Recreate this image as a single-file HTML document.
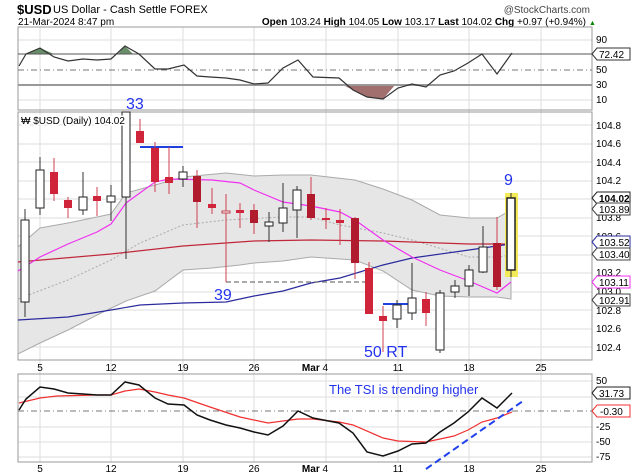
<!DOCTYPE html>
<html><head><meta charset="utf-8"><style>
html,body{margin:0;padding:0;background:#fff;}
svg{display:block;font-family:"Liberation Sans",sans-serif;}
</style></head><body>
<svg width="633" height="476" viewBox="0 0 633 476" xmlns="http://www.w3.org/2000/svg">
<rect width="633" height="476" fill="#fff"/>
<!-- header -->
<text x="17" y="14" font-size="13" font-weight="bold" fill="#000">$USD</text>
<text x="53" y="13" font-size="11" fill="#000">US Dollar - Cash Settle FOREX</text>
<text x="18" y="25" font-size="10" fill="#000">21-Mar-2024 8:47 pm</text>
<text x="590" y="13" font-size="10" fill="#444" text-anchor="end">@StockCharts.com</text>
<text x="586" y="25" font-size="10" fill="#000" text-anchor="end"><tspan font-weight="bold">Open</tspan> 103.24 <tspan font-weight="bold">High</tspan> 104.05 <tspan font-weight="bold">Low</tspan> 103.17 <tspan font-weight="bold">Last</tspan> 104.02 <tspan font-weight="bold">Chg</tspan> +0.97 (+0.94%)</text>
<text x="589" y="25" font-size="7" fill="#080">▲</text>

<!-- grids -->
<g stroke="#ddd" stroke-width="1">
<line x1="40" y1="27" x2="40" y2="462"/><line x1="111" y1="27" x2="111" y2="462"/>
<line x1="183" y1="27" x2="183" y2="462"/><line x1="254" y1="27" x2="254" y2="462"/>
<line x1="326" y1="27" x2="326" y2="462"/><line x1="398" y1="27" x2="398" y2="462"/>
<line x1="469" y1="27" x2="469" y2="462"/><line x1="541" y1="27" x2="541" y2="462"/>
<line x1="18" y1="40" x2="592" y2="40"/><line x1="18" y1="100" x2="592" y2="100"/>
<line x1="18" y1="125" x2="592" y2="125"/><line x1="18" y1="144" x2="592" y2="144"/><line x1="18" y1="162" x2="592" y2="162"/><line x1="18" y1="181" x2="592" y2="181"/><line x1="18" y1="199" x2="592" y2="199"/><line x1="18" y1="218" x2="592" y2="218"/><line x1="18" y1="236" x2="592" y2="236"/><line x1="18" y1="255" x2="592" y2="255"/><line x1="18" y1="273" x2="592" y2="273"/><line x1="18" y1="292" x2="592" y2="292"/><line x1="18" y1="310" x2="592" y2="310"/><line x1="18" y1="329" x2="592" y2="329"/><line x1="18" y1="347" x2="592" y2="347"/>
<line x1="18" y1="381" x2="592" y2="381"/><line x1="18" y1="397" x2="592" y2="397"/><line x1="18" y1="427" x2="592" y2="427"/><line x1="18" y1="442" x2="592" y2="442"/><line x1="18" y1="457" x2="592" y2="457"/>
</g>
<g stroke="#999" fill="none" stroke-width="1">
<rect x="18" y="27" width="574" height="83"/>
<rect x="18" y="112" width="574" height="248"/>
<rect x="18" y="374" width="574" height="88"/>
</g>

<!-- RSI -->
<polygon points="26,54 26,54 40,48 54,54" fill="#4f7a4f" opacity="0.85"/>
<polygon points="118,54 125,46 133,54" fill="#4f7a4f" opacity="0.85"/>
<polygon points="343,85 353,90 367,97 383,99 395,85" fill="#8b4b4b" opacity="0.8"/>
<line x1="18" y1="54" x2="592" y2="54" stroke="#555" stroke-width="1"/>
<line x1="18" y1="70" x2="592" y2="70" stroke="#777" stroke-dasharray="6,3,1,3"/>
<line x1="18" y1="85" x2="592" y2="85" stroke="#999" stroke-width="2"/>
<polyline fill="none" stroke="#333" stroke-width="1.2" points="19,66 26,54 40,48 54,57 68,61 83,59 97,60 111,59 125,46 139,54 155,69 168,69 184,65 197,76 210,77 226,78 240,80 254,84 268,83 283,68 298,60 313,77 339,78 353,90 367,97 383,99 398,88 412,84 426,87 440,75 454,71 468,63 482,54 497,74 512,53"/>
<g font-size="10" fill="#000"><text x="596" y="43">90</text><text x="596" y="73">50</text><text x="596" y="88">30</text><text x="596" y="103">10</text></g>
<polygon points="592,54 597,48 630,48 630,60 597,60" fill="#fff" stroke="#333"/>
<text x="599" y="58" font-size="10">72.42</text>

<!-- Main -->
<polygon fill="#e6e6e6" stroke="#aaa" points="18,247 40,228 68,223 97,217 111,214 126,193 155,185 183,177 226,173 254,176 283,175 311,175 355,180 383,189 412,200 440,215 469,218 497,218 511,210 511,299 497,297 469,297 440,296 412,290 383,271 355,260 340,259 311,257 283,261 254,263 240,265 212,268 183,270 155,291 126,301 97,315 68,330 40,343 18,354"/>
<polyline fill="none" stroke="#aaa" stroke-dasharray="2,2" points="18,299 68,280 111,260 140,243 183,225 226,220 283,217 311,217 340,225 383,233 412,240 469,257 497,257 511,255"/>
<polyline fill="none" stroke="#c0283a" stroke-width="1.2" points="18,262 111,254 183,246 254,241 311,240 383,241 440,243 469,244 511,244"/>
<polyline fill="none" stroke="#2b2b9e" stroke-width="1.2" points="18,320 68,317 111,310 140,305 183,303 226,302 254,296 283,291 311,283 340,278 383,265 412,258 469,250 511,244"/>
<polyline fill="none" stroke="#f030f0" stroke-width="1.2" points="18,271 40,257 68,244 97,232 111,224 126,203 155,182 169,179 212,180 240,183 254,190 283,202 311,206 340,212 355,220 383,240 412,257 440,270 469,281 497,293 511,282"/>
<line x1="226" y1="282" x2="369" y2="282" stroke="#777" stroke-dasharray="5,3" stroke-width="1.2"/>
<line x1="140" y1="147" x2="183" y2="147" stroke="#2040e0" stroke-width="2"/>
<line x1="383" y1="304" x2="411" y2="304" stroke="#2040e0" stroke-width="2"/>
<rect x="505" y="193" width="13" height="84" fill="#f3ea5a"/>
<g stroke-width="1">
<g stroke="#333">
<line x1="25" y1="209" x2="25" y2="317"/><line x1="40" y1="157" x2="40" y2="215"/><line x1="83" y1="172" x2="83" y2="215"/><line x1="111" y1="185" x2="111" y2="221"/><line x1="126" y1="112" x2="126" y2="259"/><line x1="183" y1="166" x2="183" y2="187"/><line x1="269" y1="212" x2="269" y2="242"/><line x1="283" y1="183" x2="283" y2="232"/><line x1="297" y1="186" x2="297" y2="238"/><line x1="397" y1="300" x2="397" y2="328"/><line x1="412" y1="263" x2="412" y2="320"/><line x1="440" y1="290" x2="440" y2="353"/><line x1="455" y1="280" x2="455" y2="298"/><line x1="469" y1="265" x2="469" y2="296"/><line x1="483" y1="226" x2="483" y2="273"/><line x1="511" y1="193" x2="511" y2="277"/>
</g>
<g stroke="#d04050">
<line x1="54" y1="158" x2="54" y2="201"/><line x1="68" y1="197" x2="68" y2="218"/><line x1="97" y1="187" x2="97" y2="216"/><line x1="140" y1="119" x2="140" y2="143"/><line x1="155" y1="142" x2="155" y2="192"/><line x1="169" y1="147" x2="169" y2="194"/><line x1="197" y1="170" x2="197" y2="228"/><line x1="212" y1="188" x2="212" y2="214"/><line x1="226" y1="194" x2="226" y2="282"/><line x1="240" y1="203" x2="240" y2="228"/><line x1="254" y1="204" x2="254" y2="234"/><line x1="311" y1="177" x2="311" y2="220"/><line x1="326" y1="208" x2="326" y2="229"/><line x1="340" y1="209" x2="340" y2="245"/><line x1="355" y1="217" x2="355" y2="279"/><line x1="369" y1="262" x2="369" y2="314"/><line x1="383" y1="306" x2="383" y2="352"/><line x1="426" y1="292" x2="426" y2="326"/><line x1="497" y1="217" x2="497" y2="290"/>
</g>
<g fill="#fff" stroke="#222">
<rect x="21" y="220" width="8" height="82"/><rect x="36" y="170" width="8" height="38"/><rect x="79" y="197" width="8" height="13"/><rect x="107" y="196" width="8" height="6"/><rect x="122" y="112" width="8" height="85"/><rect x="179" y="172" width="8" height="7"/><rect x="265" y="222" width="8" height="4"/><rect x="279" y="208" width="8" height="15"/><rect x="293" y="190" width="8" height="20"/><rect x="393" y="305" width="8" height="14"/><rect x="408" y="298" width="8" height="15"/><rect x="436" y="293" width="8" height="57"/><rect x="451" y="286" width="8" height="6"/><rect x="465" y="270" width="8" height="16"/><rect x="479" y="247" width="8" height="25"/><rect x="507" y="198" width="8" height="72" stroke-width="1.5"/>
<rect x="222" y="211" width="8" height="2" stroke="#c04050"/>
</g>
<g fill="#d0243a">
<rect x="50" y="172" width="8" height="22"/><rect x="64" y="200" width="8" height="8"/><rect x="93" y="196" width="8" height="5"/><rect x="136" y="131" width="8" height="12"/><rect x="151" y="148" width="8" height="34"/><rect x="165" y="177" width="8" height="6"/><rect x="208" y="204" width="8" height="4"/><rect x="236" y="210" width="8" height="3"/><rect x="322" y="218" width="8" height="2"/><rect x="336" y="220" width="8" height="3"/><rect x="365" y="268" width="8" height="46"/><rect x="379" y="316" width="8" height="5"/><rect x="422" y="299" width="8" height="14"/>
</g>
<g fill="#b01c2e">
<rect x="193" y="176" width="8" height="26"/><rect x="250" y="210" width="8" height="13"/><rect x="307" y="194" width="8" height="24"/><rect x="351" y="218" width="8" height="45"/><rect x="493" y="243" width="8" height="44"/>
</g>
</g>
<text x="21" y="124" font-size="10" fill="#000" stroke="#fff" stroke-width="3" paint-order="stroke">₩ $USD (Daily) 104.02</text>
<g fill="#2233ee" font-size="16">
<text x="126" y="109">33</text><text x="214" y="300">39</text><text x="364" y="357">50 RT</text><text x="504" y="185">9</text>
</g>
<g font-size="10" fill="#000">
<text x="596" y="129">104.8</text><text x="596" y="147">104.6</text><text x="596" y="166">104.4</text><text x="596" y="184">104.2</text><text x="596" y="221">103.8</text><text x="596" y="240">103.6</text><text x="596" y="276">103.2</text><text x="596" y="295">103.0</text><text x="596" y="314">102.8</text><text x="596" y="332">102.6</text><text x="596" y="351">102.4</text>
</g>
<g font-size="10">
<polygon points="592,198 597,192 630,192 630,204 597,204" fill="#fff" stroke="#222"/><text x="599" y="202" font-weight="bold">104.02</text>
<polygon points="592,209 597,203 630,203 630,215 597,215" fill="#fff" stroke="#444"/><text x="599" y="213">103.89</text>
<polygon points="592,242 597,236 630,236 630,248 597,248" fill="#fff" stroke="#2b2b9e"/><text x="599" y="246">103.52</text>
<polygon points="592,254 597,248 630,248 630,260 597,260" fill="#fff" stroke="#444"/><text x="599" y="258">103.40</text>
<polygon points="592,282 597,276 630,276 630,288 597,288" fill="#fff" stroke="#f030f0"/><text x="599" y="286">103.11</text>
<polygon points="592,300 597,294 630,294 630,306 597,306" fill="#fff" stroke="#444"/><text x="599" y="304">102.91</text>
</g>
<g font-size="10" fill="#000" text-anchor="middle">
<text x="40" y="371">5</text><text x="111" y="371">12</text><text x="183" y="371">19</text><text x="254" y="371">26</text><text x="315" y="371"><tspan font-weight="bold">Mar</tspan> 4</text><text x="398" y="371">11</text><text x="469" y="371">18</text><text x="541" y="371">25</text>
<text x="40" y="472">5</text><text x="111" y="472">12</text><text x="183" y="472">19</text><text x="254" y="472">26</text><text x="315" y="472"><tspan font-weight="bold">Mar</tspan> 4</text><text x="398" y="472">11</text><text x="469" y="472">18</text><text x="541" y="472">25</text>
</g>

<!-- TSI -->
<line x1="18" y1="411" x2="592" y2="411" stroke="#777" stroke-dasharray="6,3,1,3"/>
<polyline fill="none" stroke="#f03030" stroke-width="1.2" points="19,403 40,398 57,396 97,395 111,395 125,391 139,389 155,392 168,395 184,398 210,407 240,417 268,423 298,419 313,419 339,422 353,425 383,438 398,441 426,442 454,436 468,430 482,422 497,418 512,412"/>
<polyline fill="none" stroke="#111" stroke-width="1.5" points="19,410 26,399 40,387 54,389 68,393 83,394 97,395 111,395 125,382 139,385 155,398 168,404 184,405 197,415 210,420 226,425 240,428 254,432 268,435 283,426 298,411 313,418 339,423 353,433 367,452 383,456 398,451 412,444 426,443 440,432 454,423 468,412 482,398 497,408 512,393"/>
<line x1="426" y1="469" x2="523" y2="401" stroke="#2040ee" stroke-width="2" stroke-dasharray="7,4"/>
<text x="329" y="394" font-size="13" fill="#2233ee">The TSI is trending higher</text>
<g font-size="10" fill="#000"><text x="596" y="384">50</text><text x="596" y="430">-25</text><text x="596" y="445">-50</text><text x="596" y="460">-75</text></g>
<polygon points="592,393 597,387 630,387 630,399 597,399" fill="#fff" stroke="#222"/><text x="599" y="397" font-size="10">31.73</text>
<polygon points="592,411 597,405 630,405 630,417 597,417" fill="#fff" stroke="#f03030"/><text x="600" y="415" font-size="10">-0.30</text>
</svg>
</body></html>
